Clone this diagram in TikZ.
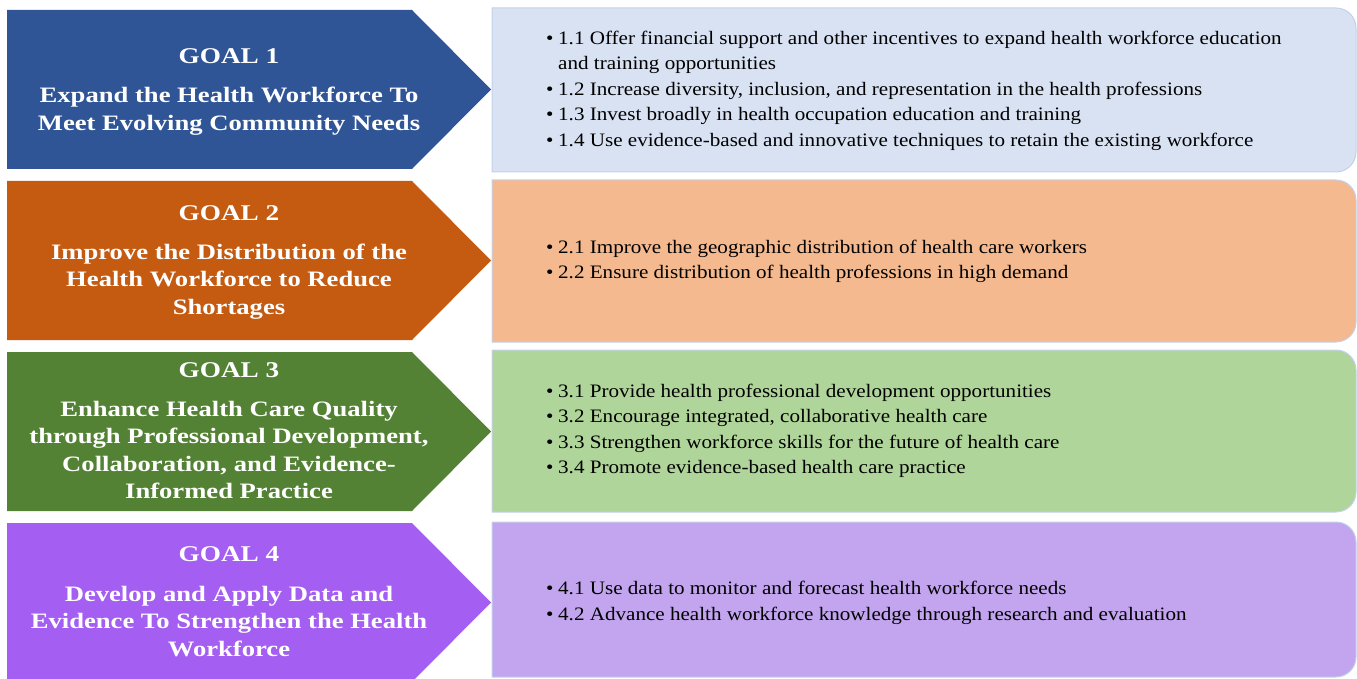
\documentclass[tikz,border=0pt]{standalone}
\usepackage{fontspec}
\setmainfont{Liberation Serif}
\newfontfamily\goalfont[FakeStretch=1.21]{Liberation Serif}
\newfontfamily\listfont[FakeStretch=1.11]{Liberation Serif}
\definecolor{gblue}{HTML}{2F5597}
\definecolor{gorange}{HTML}{C55A11}
\definecolor{ggreen}{HTML}{548235}
\definecolor{gpurple}{HTML}{A45EF2}
\definecolor{lblue}{HTML}{D8E2F2}
\definecolor{lorange}{HTML}{F4B98F}
\definecolor{lgreen}{HTML}{B0D59A}
\definecolor{lpurple}{HTML}{C2A5EE}
\definecolor{edgeline}{HTML}{C3D1EA}
\newcommand{\bitem}[1]{\makebox[12pt][l]{\textbullet}#1}
\newcommand{\bcont}[1]{\hspace*{12pt}#1}
\newcommand{\goalhead}[1]{{\fontsize{22.5}{27.5}\selectfont #1}}
\tikzset{
  listbox/.style={draw=edgeline, line width=1pt},
  goaltext/.style={text=white, font=\goalfont\fontsize{22}{27.5}\selectfont\bfseries, align=center, inner sep=0pt},
  listtext/.style={text=black, font=\listfont\fontsize{19}{25.5}\selectfont, align=left, inner sep=0pt, anchor=west},
}
\begin{document}
\begin{tikzpicture}[x=1pt,y=-1pt]
\useasboundingbox (0,0) rectangle (1357,679);
\clip (0,0) rectangle (1357,679);
% Goal arrows
\fill[gblue]   (7,10)  -- (412,10)  -- (491,89.5) -- (412,169) -- (7,169) -- cycle;
\fill[gorange] (7,181) -- (412,181) -- (491,260.5) -- (412,340) -- (7,340) -- cycle;
\fill[ggreen]  (7,352) -- (412,352) -- (491,431.5) -- (412,511) -- (7,511) -- cycle;
\fill[gpurple] (7,523) -- (412,523) -- (491,602.5) -- (412,682) -- (7,682) -- cycle;
% List boxes (square left corners, rounded right corners)
\filldraw[listbox, fill=lblue]   (492,8)   [rounded corners=20pt] -- (1356,8)   -- (1356,172) [sharp corners] -- (492,172) -- cycle;
\filldraw[listbox, fill=lorange] (492,180) [rounded corners=20pt] -- (1356,180) -- (1356,342) [sharp corners] -- (492,342) -- cycle;
\filldraw[listbox, fill=lgreen]  (492,350) [rounded corners=20pt] -- (1356,350) -- (1356,512) [sharp corners] -- (492,512) -- cycle;
\filldraw[listbox, fill=lpurple] (492,522) [rounded corners=20pt] -- (1356,522) -- (1356,677) [sharp corners] -- (492,677) -- cycle;
% Goal texts
\node[goaltext] (g1) at (229,91.5) {\goalhead{GOAL 1}\\[12pt]Expand the Health Workforce To\\Meet Evolving Community Needs};
\node[goaltext] (g2) at (229,262.5) {\goalhead{GOAL 2}\\[11pt]Improve the Distribution of the\\Health Workforce to Reduce\\Shortages};
\node[goaltext] (g3) at (229,431) {\goalhead{GOAL 3}\\[11pt]Enhance Health Care Quality\\through Professional Development,\\Collaboration, and Evidence-\\Informed Practice};
\node[goaltext] (g4) at (229,601.5) {\goalhead{GOAL 4}\\[12pt]Develop and Apply Data and\\Evidence To Strengthen the Health\\Workforce};
% List texts
\node[listtext] (l1) at (546,90.5) {\bitem{1.1 Offer financial support and other incentives to expand health workforce education}\\
\bcont{and training opportunities}\\
\bitem{1.2 Increase diversity, inclusion, and representation in the health professions}\\
\bitem{1.3 Invest broadly in health occupation education and training}\\
\bitem{1.4 Use evidence-based and innovative techniques to retain the existing workforce}};
\node[listtext] (l2) at (546,261.5) {\bitem{2.1 Improve the geographic distribution of health care workers}\\
\bitem{2.2 Ensure distribution of health professions in high demand}};
\node[listtext] (l3) at (546,431) {\bitem{3.1 Provide health professional development opportunities}\\
\bitem{3.2 Encourage integrated, collaborative health care}\\
\bitem{3.3 Strengthen workforce skills for the future of health care}\\
\bitem{3.4 Promote evidence-based health care practice}};
\node[listtext] (l4) at (546,603) {\bitem{4.1 Use data to monitor and forecast health workforce needs}\\
\bitem{4.2 Advance health workforce knowledge through research and evaluation}};
\end{tikzpicture}
\end{document}
